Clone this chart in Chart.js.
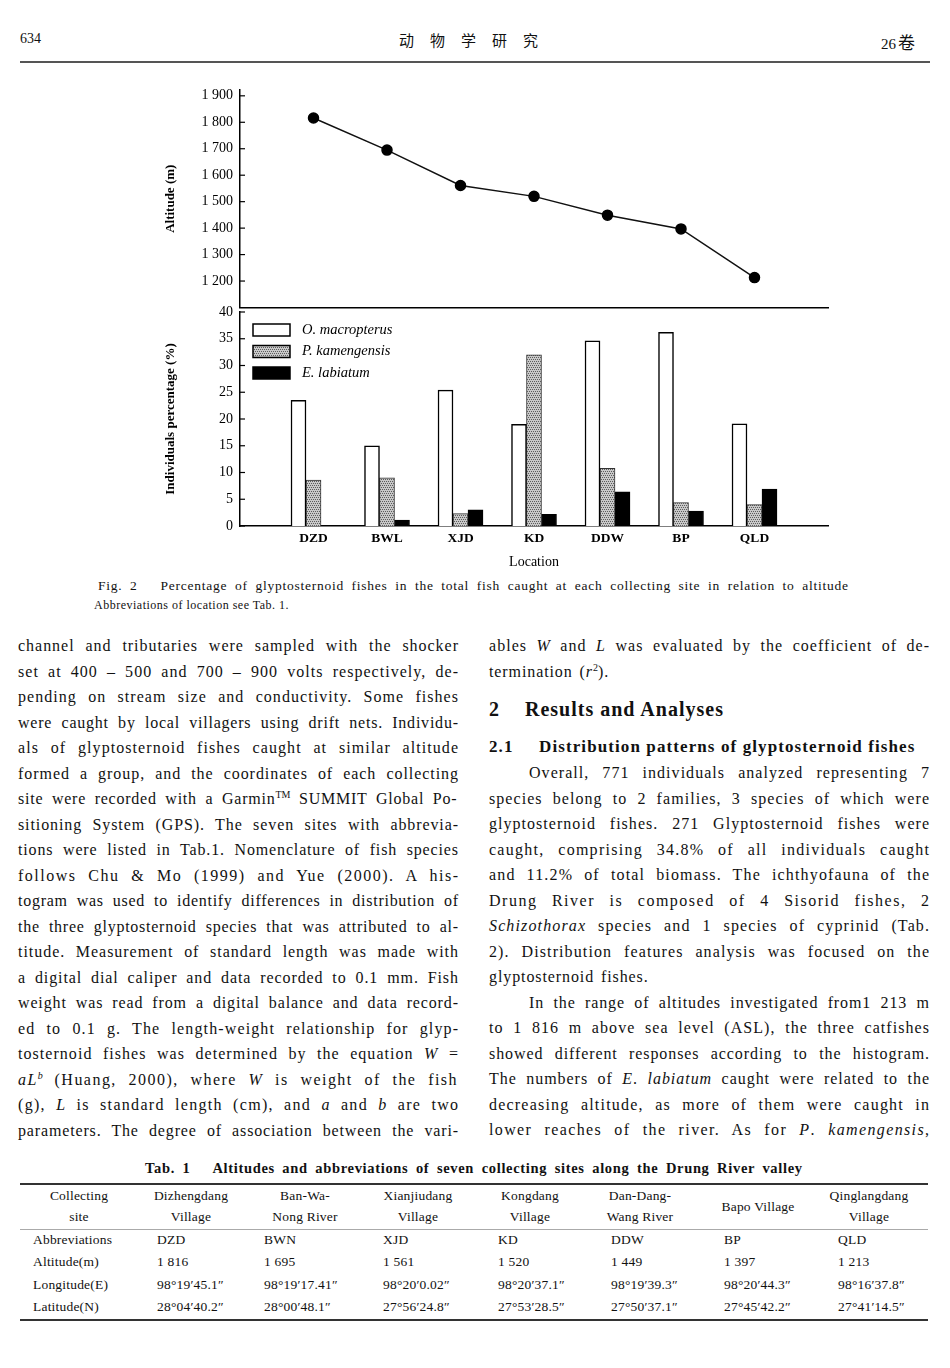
<!DOCTYPE html>
<html><head><meta charset="utf-8">
<script src="https://cdn.jsdelivr.net/npm/chart.js@4.4.1/dist/chart.umd.min.js"></script>
<style>
html,body{margin:0;padding:0;background:#fff;}
body{width:950px;height:1368px;position:relative;overflow:hidden;font-family:"Liberation Serif","Times New Roman",serif;color:#111;}
.abs{position:absolute;white-space:nowrap;}
.col{position:absolute;width:440px;font-size:16px;line-height:25.5px;}
.col > div{height:25.5px;white-space:nowrap;}
.col .l{letter-spacing:0.9px;word-spacing:2px;}
.ind{padding-left:40px;}
sup{font-size:10px;line-height:0;vertical-align:6px;letter-spacing:0 !important;}
i{font-style:italic;}
canvas{position:absolute;}
.tc{position:absolute;font-size:13.5px;white-space:nowrap;line-height:16px;letter-spacing:0.2px;}
</style></head>
<body>
<div class="abs" style="left:20px;top:31px;font-size:14px;">634</div>
<div class="abs" style="left:399px;top:29px;font-size:15px;letter-spacing:16px;font-family:'Noto Sans CJK SC';font-weight:400;">动物学研究</div>
<div class="abs" style="left:881px;top:29px;font-size:15px;">26<span style="font-family:'Noto Sans CJK SC';font-size:17px;font-weight:400;margin-left:2px;">卷</span></div>
<div class="abs" style="left:20px;top:61px;width:910px;height:1.5px;background:#555;"></div>

<canvas id="top" width="690" height="234" style="left:150px;top:80px;"></canvas>
<canvas id="bot" width="690" height="275" style="left:150px;top:301px;"></canvas>

<div class="abs fit" data-w="750" style="left:98px;top:578px;font-size:13.5px;">Fig. 2&nbsp;&nbsp; Percentage of glyptosternoid fishes in the total fish caught at each collecting site in relation to altitude</div>
<div class="abs" style="left:94px;top:598px;font-size:12px;letter-spacing:0.5px;">Abbreviations of location see Tab. 1.</div>

<div class="col" style="left:18px;top:633px;">
<div class="fit" data-w="440">channel and tributaries were sampled with the shocker</div>
<div class="fit" data-w="440">set at 400 – 500 and 700 – 900 volts respectively, de-</div>
<div class="fit" data-w="440">pending on stream size and conductivity. Some fishes</div>
<div class="fit" data-w="440">were caught by local villagers using drift nets. Individu-</div>
<div class="fit" data-w="440">als of glyptosternoid fishes caught at similar altitude</div>
<div class="fit" data-w="440">formed a group, and the coordinates of each collecting</div>
<div class="fit" data-w="440">site were recorded with a Garmin<sup>TM</sup> SUMMIT Global Po-</div>
<div class="fit" data-w="440">sitioning System (GPS). The seven sites with abbrevia-</div>
<div class="fit" data-w="440">tions were listed in Tab.1. Nomenclature of fish species</div>
<div class="fit" data-w="440">follows Chu &amp; Mo (1999) and Yue (2000). A his-</div>
<div class="fit" data-w="440">togram was used to identify differences in distribution of</div>
<div class="fit" data-w="440">the three glyptosternoid species that was attributed to al-</div>
<div class="fit" data-w="440">titude. Measurement of standard length was made with</div>
<div class="fit" data-w="440">a digital dial caliper and data recorded to 0.1 mm. Fish</div>
<div class="fit" data-w="440">weight was read from a digital balance and data record-</div>
<div class="fit" data-w="440">ed to 0.1 g. The length-weight relationship for glyp-</div>
<div class="fit" data-w="440">tosternoid fishes was determined by the equation <i>W</i> =</div>
<div class="fit" data-w="440"><i>aL</i><sup><i>b</i></sup> (Huang, 2000), where <i>W</i> is weight of the fish</div>
<div class="fit" data-w="440">(g), <i>L</i> is standard length (cm), and <i>a</i> and <i>b</i> are two</div>
<div class="fit" data-w="440">parameters. The degree of association between the vari-</div>
</div>

<div class="col" style="left:489px;top:633px;">
<div class="fit" data-w="440">ables <i>W</i> and <i>L</i> was evaluated by the coefficient of de-</div>
<div class="l">termination (<i>r</i><sup>2</sup>).</div>
<div style="height:38px;line-height:38px;margin-top:6px;font-weight:bold;font-size:20px;letter-spacing:1px;"><span style="display:inline-block;width:36px;">2</span>Results and Analyses</div>
<div style="height:38px;line-height:38px;font-weight:bold;font-size:17px;letter-spacing:1.1px;"><span style="display:inline-block;width:50px;">2.1</span>Distribution patterns of glyptosternoid fishes</div>
<div class="fit ind" data-w="400" style="margin-top:-5.75px;">Overall, 771 individuals analyzed representing 7</div>
<div class="fit" data-w="440">species belong to 2 families, 3 species of which were</div>
<div class="fit" data-w="440">glyptosternoid fishes. 271 Glyptosternoid fishes were</div>
<div class="fit" data-w="440">caught, comprising 34.8% of all individuals caught</div>
<div class="fit" data-w="440">and 11.2% of total biomass. The ichthyofauna of the</div>
<div class="fit" data-w="440">Drung River is composed of 4 Sisorid fishes, 2</div>
<div class="fit" data-w="440"><i>Schizothorax</i> species and 1 species of cyprinid (Tab.</div>
<div class="fit" data-w="440">2). Distribution features analysis was focused on the</div>
<div class="l">glyptosternoid fishes.</div>
<div class="fit ind" data-w="400">In the range of altitudes investigated from1 213 m</div>
<div class="fit" data-w="440">to 1 816 m above sea level (ASL), the three catfishes</div>
<div class="fit" data-w="440">showed different responses according to the histogram.</div>
<div class="fit" data-w="440">The numbers of <i>E</i>. <i>labiatum</i> caught were related to the</div>
<div class="fit" data-w="440">decreasing altitude, as more of them were caught in</div>
<div class="fit" data-w="440">lower reaches of the river. As for <i>P</i>. <i>kamengensis</i>,</div>
</div>

<div class="abs fit" data-w="657" style="left:145px;top:1160px;font-size:14.5px;font-weight:bold;">Tab. 1&nbsp;&nbsp; Altitudes and abbreviations of seven collecting sites along the Drung River valley</div>
<div class="abs" style="left:20px;top:1183px;width:908px;height:2px;background:#333;"></div>
<div class="abs" style="left:20px;top:1229px;width:908px;height:1px;background:#aaa;"></div>
<div class="abs" style="left:20px;top:1319px;width:908px;height:2px;background:#333;"></div>
<div id="tbl"></div>

<script>
// ---- chart data ----
const categories = ['DZD', 'BWL', 'XJD', 'KD', 'DDW', 'BP', 'QLD'];
const altitude = [1816, 1695, 1561, 1520, 1449, 1397, 1213];
const altitudeTicks = [1200, 1300, 1400, 1500, 1600, 1700, 1800, 1900];
const percentTicks = [0, 5, 10, 15, 20, 25, 30, 35, 40];
const oMacropterus = [23.5, 15.0, 25.4, 19.0, 34.6, 36.2, 19.1];
const pKamengensis = [8.6, 9.0, 2.3, 32.0, 10.8, 4.4, 4.0];
const eLabiatum = [0, 1.1, 3.0, 2.2, 6.4, 2.8, 6.9];
const seriesNames = ['O. macropterus', 'P. kamengensis', 'E. labiatum'];

// ---- table text ----
const tabHead = [['Collecting', 'site'], ['Dizhengdang', 'Village'], ['Ban-Wa-', 'Nong River'], ['Xianjiudang', 'Village'], ['Kongdang', 'Village'], ['Dan-Dang-', 'Wang River'], ['Bapo Village'], ['Qinglangdang', 'Village']];
const tabRows = [
  ['Abbreviations', 'DZD', 'BWN', 'XJD', 'KD', 'DDW', 'BP', 'QLD'],
  ['Altitude(m)', '1 816', '1 695', '1 561', '1 520', '1 449', '1 397', '1 213'],
  ['Longitude(E)', '98°19′45.1″', '98°19′17.41″', '98°20′0.02″', '98°20′37.1″', '98°19′39.3″', '98°20′44.3″', '98°16′37.8″'],
  ['Latitude(N)', '28°04′40.2″', '28°00′48.1″', '27°56′24.8″', '27°53′28.5″', '27°50′37.1″', '27°45′42.2″', '27°41′14.5″']
];
(function () {
  const centers = [79, 191, 305, 418, 530, 640, 758, 869];
  const lefts = [33, 157, 264, 383, 498, 611, 724, 838];
  const rowY = [1240, 1262, 1285, 1307];
  const t = document.getElementById('tbl');
  let h = '';
  tabHead.forEach((c, i) => {
    if (c.length === 2) {
      h += `<div class="tc" style="left:${centers[i] - 60}px;width:120px;text-align:center;top:${1196 - 8}px">${c[0]}</div>`;
      h += `<div class="tc" style="left:${centers[i] - 60}px;width:120px;text-align:center;top:${1217 - 8}px">${c[1]}</div>`;
    } else {
      h += `<div class="tc" style="left:${centers[i] - 60}px;width:120px;text-align:center;top:${1207 - 8}px">${c[0]}</div>`;
    }
  });
  tabRows.forEach((r, ri) => r.forEach((c, ci) => {
    h += `<div class="tc" style="left:${lefts[ci]}px;top:${rowY[ri] - 8}px">${c}</div>`;
  }));
  t.innerHTML = h;
})();

// ---- line filling (letter + word spacing, like the original typesetting) ----
document.querySelectorAll('.fit').forEach(el => {
  const W = parseFloat(el.dataset.w);
  el.style.whiteSpace = 'nowrap';
  const r = document.createRange(); r.selectNodeContents(el);
  const w = r.getBoundingClientRect().width;
  const txt = el.textContent;
  const n = Math.max(1, txt.length - 1);
  const ns = Math.max(1, (txt.match(/[ \u00a0]/g) || []).length);
  const extra = W - w;
  let ls = Math.min(1.5, Math.max(-0.5, extra * 0.55 / n));
  const ws = (extra - ls * n) / ns;
  el.style.letterSpacing = ls + 'px';
  el.style.wordSpacing = ws + 'px';
});

// ---- charts ----
Chart.defaults.font.family = '"Liberation Serif", "Times New Roman", serif';
Chart.defaults.color = '#000';
const xLabels = ['', ...categories, ''];
const padded = a => [null, ...a, null];

function stipple() {
  const c = document.createElement('canvas'); c.width = 4; c.height = 4;
  const g = c.getContext('2d');
  g.fillStyle = '#c8c8c8'; g.fillRect(0, 0, 4, 4);
  g.fillStyle = '#5c5c5c';
  [[0, 0], [2, 0], [1, 2], [3, 2]].forEach(p => g.fillRect(p[0], p[1], 1, 1));
  return c.getContext('2d').createPattern(c, 'repeat');
}

const inwardTicks = {
  id: 'inwardTicks',
  afterDatasetsDraw(chart) {
    const y = chart.scales.y, ctx = chart.ctx;
    ctx.save(); ctx.strokeStyle = '#000'; ctx.lineWidth = 1.2;
    y.ticks.forEach((t, i) => {
      const p = y.getPixelForTick(i);
      ctx.beginPath(); ctx.moveTo(y.right, p); ctx.lineTo(y.right + 5, p); ctx.stroke();
    });
    ctx.restore();
  }
};
const boxLegend = {
  id: 'boxLegend',
  afterDraw(chart) {
    const a = chart.chartArea, ctx = chart.ctx;
    ctx.save();
    chart.data.datasets.forEach((ds, i) => {
      const cy = a.top + 18 + i * 21.5, x = a.left + 13;
      ctx.fillStyle = ds.backgroundColor; ctx.fillRect(x, cy - 6, 37, 12);
      ctx.strokeStyle = '#000'; ctx.lineWidth = 1.5; ctx.strokeRect(x, cy - 6, 37, 12);
      ctx.fillStyle = '#000'; ctx.font = 'italic 14.5px "Liberation Serif"'; ctx.textBaseline = 'middle';
      ctx.fillText(ds.label, x + 49, cy);
    });
    ctx.restore();
  }
};
const fmt = v => v >= 1000 ? Math.floor(v / 1000) + ' ' + String(v % 1000).padStart(3, '0') : String(v);
const fixY = s => { s.width = 90; s.paddingTop = 0; s.paddingBottom = 0; };

new Chart(document.getElementById('top'), {
  type: 'line',
  data: {
    labels: xLabels,
    datasets: [{
      label: 'Altitude', data: padded(altitude),
      borderColor: '#111', borderWidth: 1.5, backgroundColor: '#000',
      pointRadius: 5, pointHoverRadius: 5, pointBackgroundColor: '#000', pointBorderColor: '#000', tension: 0
    }]
  },
  options: {
    responsive: false, animation: false,
    layout: { padding: { top: 10, right: 12, left: 0, bottom: 0 } },
    plugins: { legend: { display: false }, tooltip: { enabled: false } },
    scales: {
      x: {
        type: 'category', offset: false,
        ticks: { display: false }, grid: { display: false, drawTicks: false },
        border: { display: true, color: '#000', width: 1.5 },
        afterFit: s => { s.height = 3; s.paddingLeft = 0; s.paddingRight = 0; }
      },
      y: {
        min: 1100, max: 1922,
        afterBuildTicks: s => { s.ticks = altitudeTicks.map(v => ({ value: v })); },
        ticks: { callback: v => fmt(v), font: { size: 14 }, padding: 7 },
        grid: { display: false, drawTicks: false },
        border: { display: true, color: '#000', width: 1.5 },
        title: { display: true, text: 'Altitude (m)', font: { size: 13, weight: 'bold' }, padding: { top: 13, bottom: 0 } },
        afterFit: fixY
      }
    }
  },
  plugins: [inwardTicks]
});

const grey = stipple();
new Chart(document.getElementById('bot'), {
  type: 'bar',
  data: {
    labels: xLabels,
    datasets: [
      { label: seriesNames[0], data: padded(oMacropterus), backgroundColor: '#fff', borderColor: '#000', borderWidth: 1.5 },
      { label: seriesNames[1], data: padded(pKamengensis), backgroundColor: grey, borderColor: '#333', borderWidth: 1 },
      { label: seriesNames[2], data: padded(eLabiatum), backgroundColor: '#000', borderColor: '#000', borderWidth: 1 }
    ]
  },
  options: {
    responsive: false, animation: false,
    layout: { padding: { top: 11, right: 12, left: 0, bottom: 0 } },
    datasets: { bar: { barThickness: 15, borderSkipped: 'bottom' } },
    plugins: { legend: { display: false }, tooltip: { enabled: false } },
    scales: {
      x: {
        type: 'category', offset: false,
        ticks: { font: { size: 13.5, weight: 'bold' }, padding: 4, autoSkip: false, maxRotation: 0 },
        grid: { display: false, drawTicks: false },
        border: { display: true, color: '#000', width: 1.5 },
        title: { display: true, text: 'Location', font: { size: 14 }, padding: { top: 4, bottom: 5 } },
        afterFit: s => { s.height = 50; s.paddingLeft = 0; s.paddingRight = 0; }
      },
      y: {
        min: 0, max: 40,
        afterBuildTicks: s => { s.ticks = percentTicks.map(v => ({ value: v })); },
        ticks: { font: { size: 14 }, padding: 7 },
        grid: { display: false, drawTicks: false },
        border: { display: true, color: '#000', width: 1.5 },
        title: { display: true, text: 'Individuals percentage (%)', font: { size: 13, weight: 'bold' }, padding: { top: 13, bottom: 0 } },
        afterFit: fixY
      }
    }
  },
  plugins: [inwardTicks, boxLegend]
});
</script>
</body></html>
